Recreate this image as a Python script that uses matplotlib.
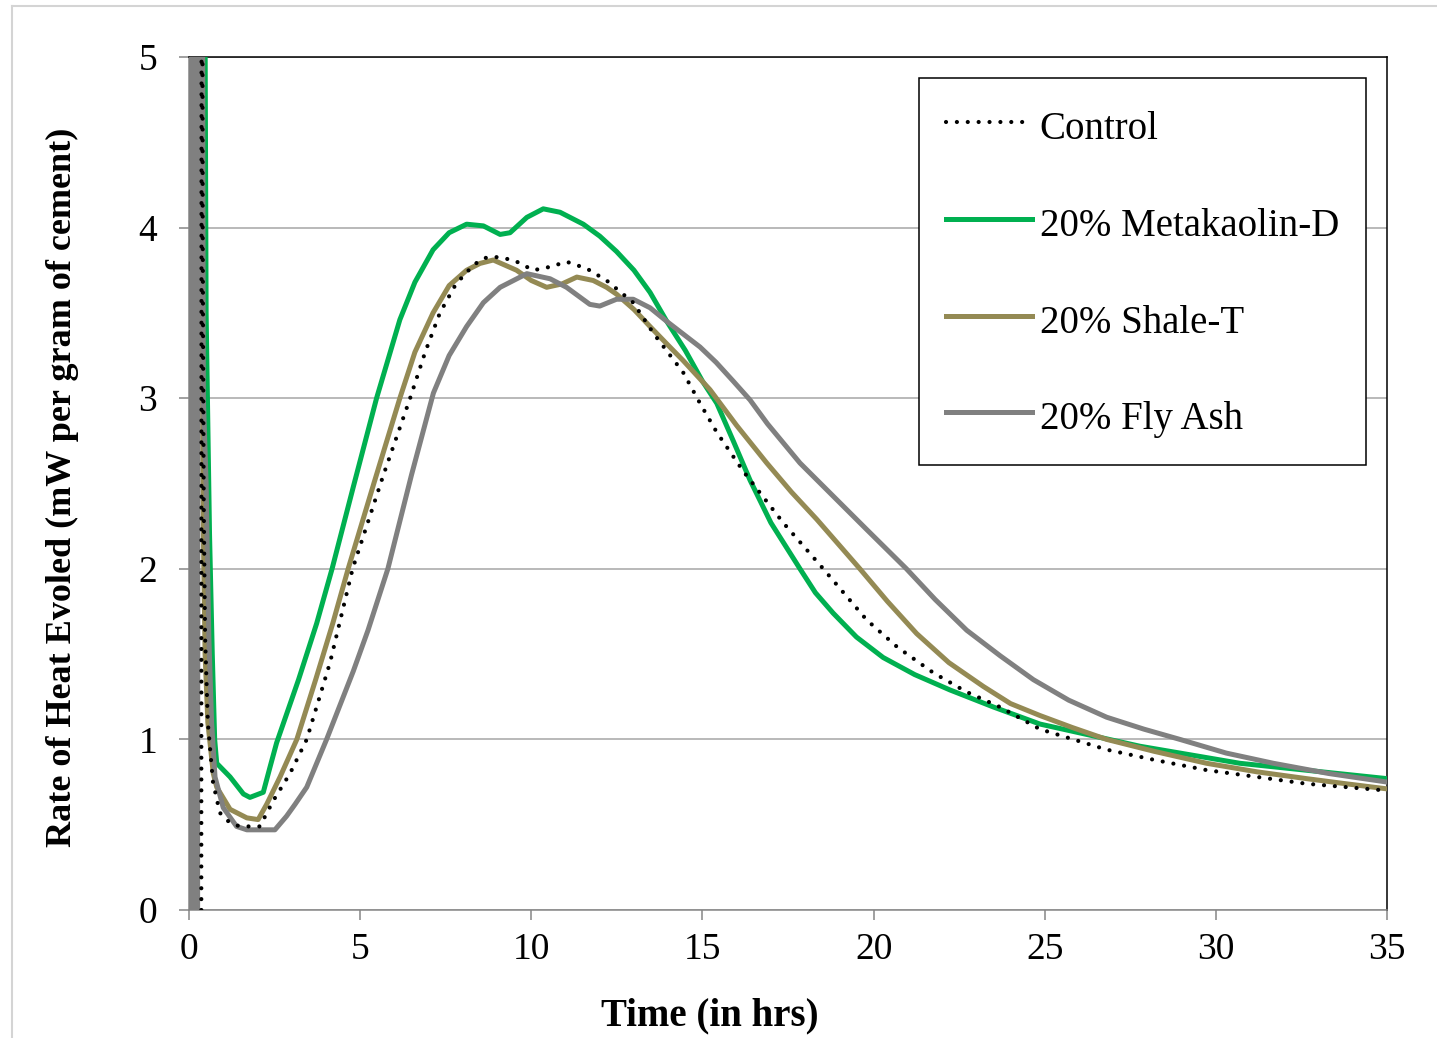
import matplotlib
matplotlib.use("Agg")
import matplotlib.pyplot as plt
from matplotlib.lines import Line2D

# ---- data: rate of heat evolved (mW/g of cement) vs time (hours) ----
control_t = [0.36, 0.37, 0.40, 0.43, 0.47, 0.55, 0.70, 0.90, 1.20, 1.49, 2.07, 2.46,
             2.95, 3.44, 4.12, 4.78, 5.68, 6.46, 6.90, 7.33, 7.80, 8.31, 8.60, 8.89,
             9.48, 10.06, 10.55, 11.03, 11.62, 12.20, 12.98, 13.57, 14.44, 14.93,
             15.42, 16.20, 17.36, 18.53, 19.80, 20.70, 21.75, 22.70, 23.69, 24.86,
             26.81, 28.20, 29.73, 31.20, 32.65, 35.00]
control_v = [0.00, 9.00, 4.00, 2.40, 1.60, 1.10, 0.75, 0.57, 0.51, 0.49, 0.49, 0.64,
             0.80, 1.00, 1.45, 2.00, 2.55, 3.00, 3.27, 3.50, 3.67, 3.78, 3.82, 3.83,
             3.81, 3.75, 3.77, 3.80, 3.76, 3.69, 3.56, 3.38, 3.15, 2.97,
             2.80, 2.57, 2.27, 2.00, 1.70, 1.54, 1.39, 1.28, 1.19, 1.06,
             0.94, 0.88, 0.82, 0.78, 0.74, 0.70]

meta_t = [0.40, 0.50, 0.60, 0.68, 0.75, 0.81, 1.20, 1.59, 1.78, 2.17, 2.37,
          2.56, 3.20, 3.73, 4.18, 4.80, 5.48, 6.16, 6.60, 7.13, 7.60, 8.11, 8.60,
          9.09, 9.38, 9.87, 10.35, 10.84, 11.52, 12.00, 12.49, 13.00, 13.47, 13.96,
          14.50, 15.00, 15.42, 15.90, 16.39, 17.00, 17.85, 18.30, 18.82, 19.50,
          20.28, 21.20, 22.23, 23.50, 24.86, 27.78, 30.70, 35.00]
meta_v = [9.00, 3.50, 2.20, 1.50, 1.00, 0.86, 0.78, 0.68, 0.66, 0.69, 0.84,
          0.98, 1.35, 1.68, 2.00, 2.48, 3.00, 3.46, 3.68, 3.87, 3.97, 4.02, 4.01,
          3.96, 3.97, 4.06, 4.11, 4.09, 4.02, 3.95, 3.86, 3.75, 3.62, 3.45,
          3.28, 3.10, 2.97, 2.75, 2.52, 2.27, 2.00, 1.86, 1.74, 1.60,
          1.48, 1.38, 1.29, 1.19, 1.09, 0.96, 0.86, 0.77]

shale_t = [0.35, 0.38, 0.42, 0.47, 0.55, 0.71, 0.81, 1.20, 1.69, 2.02, 2.27,
           2.66, 3.15, 3.70, 4.20, 4.65, 5.40, 6.16, 6.60, 7.13, 7.60, 8.11, 8.50,
           8.89, 9.57, 10.00, 10.45, 10.90, 11.33, 11.81, 12.20, 12.49, 13.00,
           13.47, 14.00, 14.44, 15.22, 16.00, 16.88, 17.60, 18.34, 19.60, 20.40,
           21.26, 22.20, 23.21, 24.00, 24.86, 25.80, 26.81, 28.20, 29.73, 31.20,
           32.65, 33.80, 35.00]
shale_v = [9.00, 3.50, 2.20, 1.50, 1.10, 0.80, 0.72, 0.59, 0.54, 0.53, 0.62,
           0.78, 1.00, 1.35, 1.68, 2.00, 2.50, 3.00, 3.27, 3.50, 3.66, 3.75, 3.79,
           3.81, 3.75, 3.69, 3.65, 3.67, 3.71, 3.69, 3.65, 3.61, 3.52,
           3.42, 3.31, 3.22, 3.05, 2.84, 2.62, 2.45, 2.29, 2.00, 1.81,
           1.62, 1.45, 1.31, 1.21, 1.14, 1.07, 1.00, 0.93, 0.86, 0.81,
           0.77, 0.74, 0.71]

flyash_t = [0.05, 0.10, 0.15, 0.20, 0.25, 0.30, 0.35, 0.42, 0.50, 0.58, 0.66, 0.76,
            1.00, 1.39, 1.69, 2.51, 2.85, 3.10, 3.44, 4.02, 4.80, 5.23, 5.81, 6.50,
            7.14, 7.60, 8.11, 8.60, 9.09, 9.87, 10.55, 11.03, 11.71, 12.00, 12.49,
            12.98, 13.47, 13.96, 14.93, 15.40, 15.90, 16.39, 16.90, 17.85, 18.80,
            19.80, 20.96, 21.80, 22.72, 23.70, 24.67, 25.70, 26.81, 27.90, 28.95,
            30.30, 31.68, 33.30, 35.00]
flyash_v = [0.00, 12.0, 0.00, 12.0, 0.00, 12.0, 10.0, 3.00, 2.50, 1.60, 1.10, 0.78,
            0.60, 0.49, 0.47, 0.47, 0.55, 0.62, 0.72, 1.00, 1.40, 1.64, 2.00, 2.55,
            3.03, 3.25, 3.42, 3.56, 3.65, 3.73, 3.70, 3.65, 3.55, 3.54, 3.58,
            3.58, 3.53, 3.45, 3.30, 3.21, 3.10, 2.99, 2.85, 2.62, 2.43,
            2.23, 2.00, 1.82, 1.64, 1.49, 1.35, 1.23, 1.13, 1.06, 1.00,
            0.92, 0.86, 0.80, 0.75]

series_labels = ["Control", "20% Metakaolin-D", "20% Shale-T", "20% Fly Ash"]
x_ticks = [0, 5, 10, 15, 20, 25, 30, 35]
y_ticks = [0, 1, 2, 3, 4, 5]

GREEN = "#00b050"
TAN = "#948a54"
GRAY = "#808080"
AXIS_GRAY = "#868686"

plt.rcParams["font.family"] = ["Liberation Serif", "DejaVu Serif"]

W, H = 1437, 1038
fig = plt.figure(figsize=(W / 100, H / 100), dpi=100)
ax = fig.add_axes([189 / W, 1 - 910 / H, (1387 - 189) / W, (910 - 57) / H])

lw = 3.6
ax.plot(meta_t, meta_v, color=GREEN, lw=lw, label=series_labels[1], zorder=3,
        solid_joinstyle="round")
ax.plot(shale_t, shale_v, color=TAN, lw=lw, label=series_labels[2], zorder=4,
        solid_joinstyle="round")
ax.plot(flyash_t, flyash_v, color=GRAY, lw=lw, label=series_labels[3], zorder=5,
        solid_joinstyle="round")
ax.plot(control_t, control_v, color="black", lw=3.0, linestyle=(0, (0.01, 2.6)),
        dash_capstyle="round", label=series_labels[0], zorder=6)

ax.set_xlim(0, 35)
ax.set_ylim(0, 5)
ax.set_xticks(x_ticks)
ax.set_yticks(y_ticks)

ax.grid(axis="y", color="#a6a6a6", lw=1.1, zorder=0)
ax.set_axisbelow(True)

for side in ("left", "bottom"):
    ax.spines[side].set_color(AXIS_GRAY)
    ax.spines[side].set_linewidth(1.1)
for side in ("top", "right"):
    ax.spines[side].set_color("black")
    ax.spines[side].set_linewidth(1.1)

ax.tick_params(axis="both", direction="out", length=7, width=1.1, color=AXIS_GRAY,
               labelsize=27)
ax.tick_params(axis="x", pad=9)
ax.tick_params(axis="y", pad=16)

ax.set_xlabel("Time (in hrs)", fontsize=28, fontweight="bold", va="center")
ax.xaxis.set_label_coords(0.435, -0.124)
ax.set_ylabel("Rate of Heat Evoled (mW per gram of cement)", fontsize=26,
              fontweight="bold", va="center")
ax.yaxis.set_label_coords(-0.106, 0.496)

handles, labels = ax.get_legend_handles_labels()
order = [labels.index(s) for s in series_labels]
leg = ax.legend([handles[i] for i in order], [labels[i] for i in order],
                loc="upper left", bbox_to_anchor=((919 - 189) / 1198, (910 - 78) / 853),
                borderaxespad=0, fontsize=28, frameon=True, fancybox=False,
                edgecolor="black", framealpha=1, handlelength=2.2, handleheight=1.28,
                handletextpad=0.2, borderpad=0.7, labelspacing=1.38)
leg.get_frame().set_linewidth(1.1)
leg.set_zorder(10)

# light outer frame of the chart area
fig.add_artist(Line2D([12 / W, 12 / W], [0, 1 - 6 / H], color="#d4d4d4", lw=1.5))
fig.add_artist(Line2D([12 / W, 1], [1 - 6 / H, 1 - 6 / H], color="#d4d4d4", lw=1.5))

fig.savefig("out.png", dpi=100)
